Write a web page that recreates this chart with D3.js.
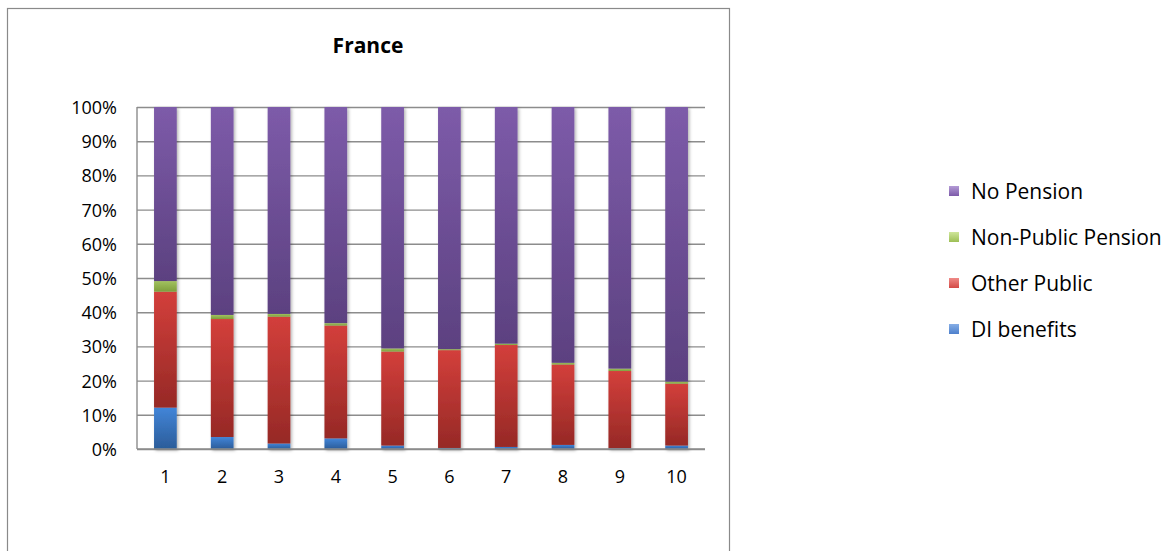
<!DOCTYPE html>
<html><head><meta charset="utf-8">
<script src="https://cdn.jsdelivr.net/npm/d3@7"></script>
<style>html,body{margin:0;padding:0;background:#fff;}svg{display:block;}</style>
</head><body>
<svg id="chart" width="1173" height="551"></svg>
<script>
const categories = ["1","2","3","4","5","6","7","8","9","10"];
const seriesNames = ["DI benefits","Other Public","Non-Public Pension","No Pension"];
const diBenefits      = [12.1, 3.5, 1.6, 3.1, 1.0, 0.3, 0.6, 1.2, 0.2, 1.0];
const otherPublic     = [33.9, 34.5, 37.1, 33.0, 27.5, 28.6, 29.8, 23.5, 22.6, 18.1];
const nonPublicPension= [3.1, 1.2, 0.8, 0.7, 0.9, 0.3, 0.4, 0.5, 0.7, 0.6];
const noPension       = [50.9, 60.8, 60.5, 63.2, 70.6, 70.8, 69.2, 74.8, 76.5, 80.3];
const yTicks = [0,10,20,30,40,50,60,70,80,90,100];
const title = "France";

const svg = d3.select("#chart");
const plot = {left:137, right:705, top:107, bottom:449};
const font = "'Open Sans', sans-serif";

const keys = ["di","op","np","no"];
const data = categories.map((c,i)=>({cat:c, di:diBenefits[i], op:otherPublic[i], np:nonPublicPension[i], no:noPension[i]}));
const stack = d3.stack().keys(keys).offset(d3.stackOffsetExpand)(data);

const x = d3.scaleBand().domain(categories).range([plot.left, plot.right]).paddingInner(0.6).paddingOuter(0.3);
const y = d3.scaleLinear().domain([0,1]).range([plot.bottom, plot.top]);

const grads = {
  di:["#4285d8","#2b5c99"],
  op:["#d33f3b","#962926"],
  np:["#a2c25f","#7e9e3c"],
  no:["#7d5ba9","#5c4180"]
};
const legendGrads = {
  di:["#86aee6","#4d80cc"],
  op:["#ef8a87","#d34a46"],
  np:["#cfe69a","#9dbf55"],
  no:["#b39bd6","#7c5aa9"]
};
const defs = svg.append("defs");
function addGrad(id, c){
  const g = defs.append("linearGradient").attr("id",id).attr("x1",0).attr("y1",0).attr("x2",0).attr("y2",1);
  g.append("stop").attr("offset","0%").attr("stop-color",c[0]);
  g.append("stop").attr("offset","100%").attr("stop-color",c[1]);
}
keys.forEach(k=>{addGrad("g_"+k, grads[k]); addGrad("lg_"+k, legendGrads[k]);});
const f = defs.append("filter").attr("id","shadow").attr("x","-30%").attr("y","-5%").attr("width","160%").attr("height","110%");
f.append("feDropShadow").attr("dx",1.5).attr("dy",1.5).attr("stdDeviation",1.6).attr("flood-color","#000").attr("flood-opacity",0.3);

// outer frame
svg.append("rect").attr("x",7.5).attr("y",8.5).attr("width",722).attr("height",560)
  .attr("fill","#fff").attr("stroke","#8a8a8a").attr("stroke-width",1.2);

// gridlines + y labels
const yAxis = d3.axisLeft(y).tickValues(yTicks.map(v=>v/100)).tickSize(-(plot.right-plot.left)).tickFormat(d=>Math.round(d*100)+"%");
const ga = svg.append("g").attr("transform",`translate(${plot.left},0)`).call(yAxis);
ga.select(".domain").remove();
ga.selectAll(".tick line").attr("stroke","#8c8c8c").attr("stroke-width",1.4);
ga.selectAll(".tick text").attr("font-family",font).attr("font-size",18).attr("fill","#000").attr("dy","0.36em").attr("x",-20);

// bars
const layer = svg.append("g").attr("filter","url(#shadow)");
stack.forEach(s=>{
  layer.append("g").selectAll("rect").data(s).join("rect")
    .attr("x",d=>x(d.data.cat))
    .attr("width",x.bandwidth())
    .attr("y",d=>y(d[1]))
    .attr("height",d=>Math.max(0,y(d[0])-y(d[1])))
    .attr("fill","url(#g_"+s.key+")");
});

// axis lines
svg.append("line").attr("x1",plot.left).attr("x2",plot.left).attr("y1",plot.top).attr("y2",plot.bottom).attr("stroke","#8c8c8c").attr("stroke-width",1.4);
svg.append("line").attr("x1",plot.left).attr("x2",plot.right).attr("y1",plot.bottom).attr("y2",plot.bottom).attr("stroke","#8c8c8c").attr("stroke-width",1.4);

// x labels
const xAxis = d3.axisBottom(x).tickSize(0).tickPadding(0);
const gx = svg.append("g").attr("transform",`translate(0,${plot.bottom})`).call(xAxis);
gx.select(".domain").remove();
gx.selectAll(".tick text").attr("font-family",font).attr("font-size",18).attr("fill","#000").attr("dy",0).attr("y",34);

// title
svg.append("text").attr("x",368).attr("y",53).attr("text-anchor","middle")
  .attr("font-family",font).attr("font-weight","bold").attr("font-size",21).attr("fill","#000").text(title);

// legend
const legendOrder = ["no","np","op","di"];
const legendLabels = {no:"No Pension", np:"Non-Public Pension", op:"Other Public", di:"DI benefits"};
const lg = svg.append("g");
legendOrder.forEach((k,i)=>{
  const cy = 191 + i*46;
  lg.append("rect").attr("x",949).attr("y",cy-5).attr("width",10).attr("height",10).attr("fill","url(#lg_"+k+")");
  lg.append("text").attr("x",971).attr("y",cy).attr("dy","0.36em").attr("font-family",font).attr("font-size",21).attr("fill","#000").text(legendLabels[k]);
});
</script>
</body></html>
